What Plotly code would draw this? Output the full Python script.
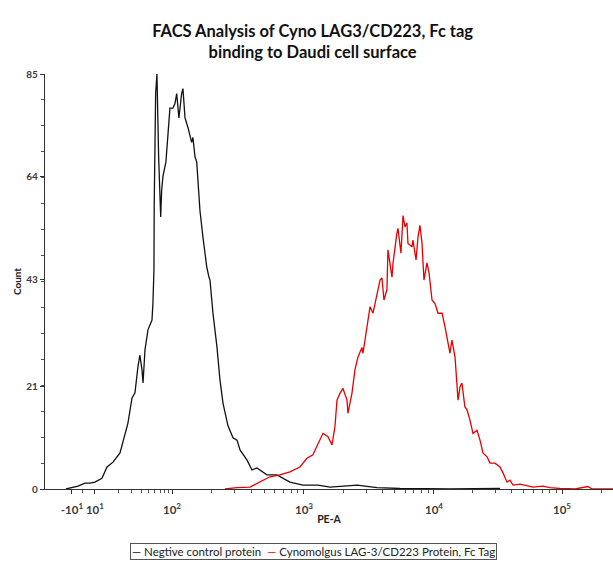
import numpy as np
import plotly.graph_objects as go

# x = position on the biexponential PE-A display, in decades (10^3 -> 3, 10^4 -> 4)
neg_x = [1.169, 1.215, 1.262, 1.315, 1.354, 1.392, 1.446, 1.485, 1.531, 1.585,
         1.623, 1.646, 1.677, 1.700, 1.723, 1.738, 1.754, 1.762, 1.777, 1.800,
         1.831, 1.838, 1.846, 1.848, 1.859, 1.869, 1.882, 1.898, 1.905, 1.915,
         1.938, 1.954, 1.969, 1.992, 2.008, 2.021, 2.038, 2.059, 2.069, 2.085,
         2.108, 2.136, 2.146, 2.162, 2.175, 2.185, 2.200, 2.223, 2.252, 2.269,
         2.277, 2.300, 2.331, 2.354, 2.377, 2.415, 2.454, 2.485, 2.508, 2.562,
         2.585, 2.600, 2.638, 2.662, 2.715, 2.792, 2.892, 2.992, 3.108, 3.200,
         3.408, 3.562, 3.738, 4.123, 4.508]
neg_count = [0, 0.3, 0.6, 1.2, 1.2, 1.4, 2.2, 4.5, 5.5, 7.4,
             11.5, 13.5, 18.6, 19.7, 25, 27.4, 24.4, 21.7, 28.5, 32.6,
             34.6, 38, 44.8, 58, 81, 85, 68, 55.7, 61, 64,
             67, 73, 78, 78, 79, 81, 76, 81, 82, 76,
             74, 71, 72, 68, 67, 63, 57, 51.6, 45.5, 43.4,
             42.8, 36, 29, 22.3, 17.6, 13, 10.5, 10, 8, 5.9,
             4.5, 3.9, 4.3, 3.9, 2.9, 2.9, 1.4, 0.8, 0.8, 0.4,
             0.8, 0.3, 0.1, 0, 0.1]

cyno_x = [2.392, 2.485, 2.585, 2.662, 2.738, 2.815, 2.892, 2.969, 3.023, 3.069,
          3.108, 3.146, 3.185, 3.215, 3.238, 3.254, 3.277, 3.300, 3.331, 3.338,
          3.369, 3.392, 3.415, 3.446, 3.454, 3.485, 3.508, 3.531, 3.562, 3.585,
          3.600, 3.615, 3.638, 3.646, 3.677, 3.685, 3.715, 3.723, 3.746, 3.762,
          3.777, 3.792, 3.800, 3.831, 3.838, 3.862, 3.877, 3.892, 3.908, 3.923,
          3.946, 3.962, 3.985, 4.008, 4.031, 4.062, 4.085, 4.108, 4.123, 4.138,
          4.162, 4.185, 4.200, 4.215, 4.238, 4.254, 4.277, 4.300, 4.331, 4.354,
          4.377, 4.408, 4.431, 4.469, 4.508, 4.531, 4.562, 4.585, 4.608, 4.662,
          4.715, 4.762, 4.838, 4.892, 4.969, 5.085, 5.185, 5.215, 5.377]
cyno_count = [0, 0.3, 0.4, 1.4, 2.5, 2.9, 3.5, 4.5, 6.3, 7,
              9.4, 11.4, 10.7, 9, 12.7, 18.2, 19.6, 20.6, 18.2, 15.5,
              19.6, 24.4, 27, 29, 27.8, 33.2, 37.3, 36, 40, 42.8,
              43.2, 38.7, 40.8, 49, 43.4, 46.3, 52.4, 53.4, 48.3, 56,
              53.7, 54.5, 50.3, 49.6, 51, 46.9, 51.6, 54, 50.3, 42.8,
              46.3, 44.2, 38.7, 38, 36, 36, 33.2, 29.9, 27.8, 30.5,
              27, 18.2, 20.9, 21.7, 16.8, 16.2, 14.1, 11.4, 12, 10,
              7.4, 6.6, 5.3, 5.3, 4.5, 3.3, 1.4, 1.8, 0.8, 1,
              0.6, 0.4, 0.6, 0.3, 0.1, 0, 0.5, 0, 0]

tick_pos = [1.215, 1.392, 1.985, 3.0, 4.0, 4.985]
tick_text = ["-10<sup>1</sup>", "10<sup>1</sup>", "10<sup>2</sup>",
             "10<sup>3</sup>", "10<sup>4</sup>", "10<sup>5</sup>"]
y_ticks = [0, 21, 43, 64, 85]

# minor ticks: log spacing inside each decade
minor = []
starts = [(1.392, 0.593), (1.985, 1.015), (3.0, 1.0), (4.0, 0.985), (4.985, 1.0)]
for s, w in starts:
    for k in range(2, 10):
        minor.append(s + w * np.log10(k))
minor.append(1.30)

font = "Lato, Open Sans, sans-serif"

fig = go.Figure()
fig.add_trace(go.Scatter(x=neg_x, y=neg_count, mode="lines",
                         line=dict(color="#111111", width=1.3),
                         name="Negtive control protein"))
fig.add_trace(go.Scatter(x=cyno_x, y=cyno_count, mode="lines",
                         line=dict(color="#e60000", width=1.3),
                         name="Cynomolgus LAG-3/CD223 Protein, Fc Tag"))

fig.update_layout(
    width=613, height=562,
    margin=dict(l=45, r=0, t=74, b=73),
    plot_bgcolor="white", paper_bgcolor="white",
    showlegend=False,
    font=dict(family=font, color="#333333"),
    title=dict(text="<b>FACS Analysis of Cyno LAG3/CD223, Fc tag<br>binding to Daudi cell surface</b>",
               x=0.51, xanchor="center", yref="container", y=1 - 37 / 562,
               yanchor="middle",
               font=dict(size=16.5, color="#111111")),
    xaxis=dict(range=[1.008, 5.377], showgrid=False, zeroline=False,
               showline=True, linecolor="#333333", linewidth=1.3,
               tickmode="array", tickvals=tick_pos, ticktext=tick_text,
               ticks="outside", ticklen=4, tickcolor="#333333", tickangle=0,
               tickfont=dict(size=11.5, color="#3a3a3a", weight="bold"),
               ticklabelstandoff=6,
               minor=dict(tickvals=minor, ticks="outside", ticklen=3,
                          tickcolor="#555555", showgrid=False),
               title=dict(text="PE-A", font=dict(size=10.5, color="#222222", weight="bold"),
                          standoff=0)),
    yaxis=dict(range=[0, 85], showgrid=False, zeroline=False,
               showline=True, linecolor="#333333", linewidth=1.3,
               tickmode="array", tickvals=y_ticks,
               ticks="outside", ticklen=4, tickcolor="#333333",
               tickfont=dict(size=10, color="#3a3a3a", weight="bold"),
               minor=dict(tick0=0, dtick=85 / 16, ticks="outside", ticklen=3,
                          tickcolor="#555555", showgrid=False),
               title=dict(text="Count", font=dict(size=10, color="#222222", weight="bold"),
                          standoff=2)),
)

fig.add_annotation(
    text="<span style='color:#111111'>—</span> Negtive control protein  "
         "<span style='color:#e60000'>—</span> Cynomolgus LAG-3/CD223 Protein, Fc Tag",
    xref="paper", yref="paper", x=(313 - 45) / 568, y=-0.13,
    xanchor="center", yanchor="top", showarrow=False,
    font=dict(size=11.5, color="#222222"),
    bordercolor="#555555", borderwidth=1, borderpad=1, bgcolor="white",
)

fig.write_html("out.html", config={"displayModeBar": False},
               post_script="document.body.style.margin='0';"
                           "document.body.style.overflow='hidden';")
